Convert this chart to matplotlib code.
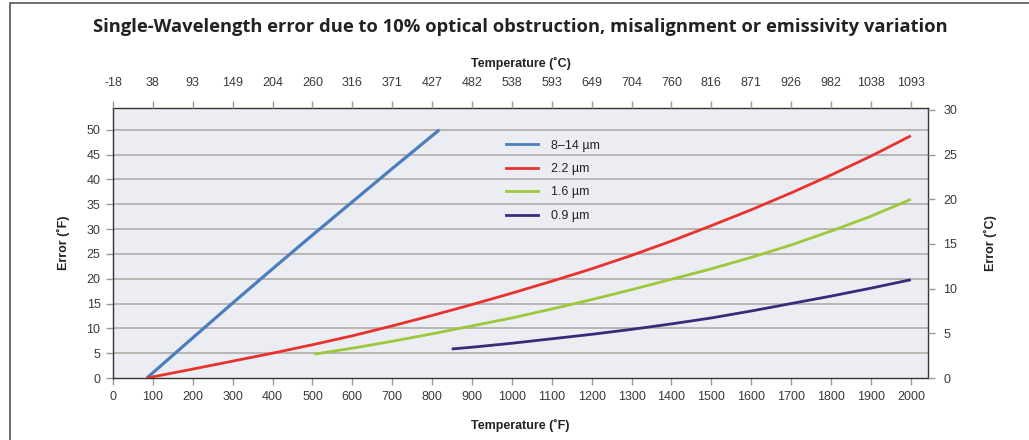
import matplotlib
matplotlib.use("Agg")
import matplotlib.pyplot as plt
from matplotlib.lines import Line2D
from matplotlib.patches import Rectangle

plt.rcParams['font.family'] = ['Liberation Sans', 'DejaVu Sans']

# ---- data ----
f_8_14 = [85, 200, 300, 400, 500, 600, 700, 818]
e_8_14 = [0, 8.1, 15.1, 22.0, 28.8, 35.5, 42.2, 50]

f_2_2 = [85, 200, 300, 400, 500, 600, 700, 800, 900, 1000, 1100, 1200, 1300, 1400,
         1500, 1600, 1700, 1800, 1900, 2000]
e_2_2 = [0, 1.8, 3.4, 5.0, 6.7, 8.5, 10.5, 12.6, 14.8, 17.1, 19.5, 22.0, 24.7, 27.6,
         30.7, 33.9, 37.3, 40.9, 44.7, 48.8]

f_1_6 = [505, 600, 700, 800, 900, 1000, 1100, 1200, 1300, 1400, 1500, 1600, 1700,
         1800, 1900, 2000]
e_1_6 = [4.8, 6.0, 7.4, 8.9, 10.5, 12.1, 13.9, 15.8, 17.8, 19.9, 22.0, 24.3, 26.8,
         29.6, 32.6, 36.0]

f_0_9 = [849, 900, 1000, 1100, 1200, 1300, 1400, 1500, 1600, 1700, 1800, 1900, 2000]
e_0_9 = [5.85, 6.2, 7.0, 7.9, 8.8, 9.8, 10.9, 12.1, 13.5, 15.0, 16.5, 18.1, 19.8]

series_labels = ['8–14 µm', '2.2 µm', '1.6 µm', '0.9 µm']
series_colors = ['#4a7fbb', '#e8322e', '#9cc83a', '#3b2a78']

x_ticks_f = list(range(0, 2001, 100))
top_tick_labels_c = ['-18', '38', '93', '149', '204', '260', '316', '371', '427', '482',
                     '538', '593', '649', '704', '760', '816', '871', '926', '982',
                     '1038', '1093']
y_ticks_f = list(range(0, 51, 5))
y_ticks_c = list(range(0, 31, 5))

title = 'Single-Wavelength error due to 10% optical obstruction, misalignment or emissivity variation'

# ---- figure ----
W, H = 1029, 440
fig = plt.figure(figsize=(W / 100, H / 100), dpi=100)
fig.patch.set_facecolor('white')

# outer frame
fig.add_artist(Rectangle((10 / W, -0.01), 1.2, 1 - 3 / H + 0.01, transform=fig.transFigure,
                         fill=False, edgecolor='#555555', linewidth=1.2))

left, right = 113 / W, 928 / W
bottom, top = 1 - 378 / H, 1 - 108 / H
ax = fig.add_axes([left, bottom, right - left, top - bottom])
ax.set_facecolor('#ecedf3')

xmax = 2043
ymax = 54.4
ax.set_xlim(0, xmax)
ax.set_ylim(0, ymax)

for y in y_ticks_f[1:]:
    ax.axhline(y, color='#b9b5b3', linewidth=1.4, zorder=1)

series = [(f_8_14, e_8_14, 2.3), (f_2_2, e_2_2, 2.0), (f_1_6, e_1_6, 2.0), (f_0_9, e_0_9, 2.0)]
for (fx, ey, lw), c in zip(series, series_colors):
    ax.plot(fx, ey, color=c, linewidth=lw, zorder=3, solid_capstyle='butt',
            solid_joinstyle='round')

tick_color = '#999999'
label_color = '#3a3a3a'
for s in ax.spines.values():
    s.set_color('#333333')
    s.set_linewidth(1.0)

ax.set_xticks(x_ticks_f)
ax.set_xticklabels([str(v) for v in x_ticks_f])
ax.set_yticks(y_ticks_f)
ax.tick_params(axis='both', labelsize=9, colors=tick_color, labelcolor=label_color,
               length=5, width=1, pad=4, direction='out')

ax.set_xlabel('Temperature (˚F)', fontsize=9, fontweight='bold', color='#222222', labelpad=12)
ax.set_ylabel('Error (˚F)', fontsize=9, fontweight='bold', color='#222222', labelpad=12)

# top axis (°C)
axt = ax.twiny()
axt.set_xlim(0, xmax)
axt.set_xticks(x_ticks_f)
axt.set_xticklabels(top_tick_labels_c)
axt.tick_params(axis='x', labelsize=9, colors=tick_color, labelcolor=label_color,
                length=5, width=1, pad=9, direction='out')
axt.set_xlabel('Temperature (˚C)', fontsize=9, fontweight='bold', color='#222222', labelpad=7)
for s in axt.spines.values():
    s.set_visible(False)

# right axis (°C error)
axr = ax.twinx()
axr.set_ylim(0, ymax / 1.8)
axr.set_yticks(y_ticks_c)
axr.tick_params(axis='y', labelsize=9, colors=tick_color, labelcolor=label_color,
                length=5, width=1, pad=6, direction='out')
axr.set_ylabel('Error (˚C)', fontsize=9, fontweight='bold', color='#222222', labelpad=19)
for s in axr.spines.values():
    s.set_visible(False)

handles = [Line2D([0], [0], color=c, linewidth=2.0) for c in series_colors]
leg = ax.legend(handles, series_labels, loc='upper left', bbox_to_anchor=(0.468, 0.925),
                frameon=False, fontsize=9, handlelength=2.6, handletextpad=1.0,
                labelspacing=0.92)
for t in leg.get_texts():
    t.set_color('#222222')

fig.text(0.5 * (95 + 945) / W, 1 - 27 / H, title, ha='center', va='center',
         fontsize=13.2, fontweight='bold', color='#222222', family=['Open Sans', 'DejaVu Sans'])

fig.savefig('out.png', dpi=100)
